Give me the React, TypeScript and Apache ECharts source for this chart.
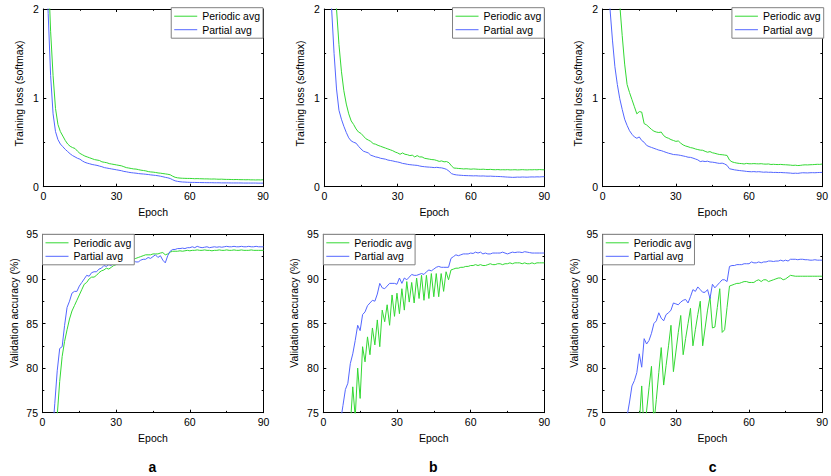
import React, { useEffect, useRef } from "react";
import * as echarts from "echarts";

// ---------- data ----------
const epochs: number[] = Array.from({ length: 90 }, (_, i) => i + 1);
const xTicks = [0, 30, 60, 90];
const seriesNames = ["Periodic avg", "Partial avg"];
const panelLetters = ["a", "b", "c"];
const yTitles = ["Training loss (softmax)", "Validation accuracy (%)"];

// Training loss, panel a
const lossA_periodic = [
  3.2, 2.45, 1.75, 1.25, 0.88, 0.7, 0.62, 0.57, 0.52, 0.48,
  0.455, 0.44, 0.43, 0.4, 0.375, 0.36, 0.345, 0.335, 0.325, 0.315,
  0.305, 0.3, 0.295, 0.28, 0.275, 0.27, 0.26, 0.255, 0.25, 0.245,
  0.24, 0.235, 0.225, 0.215, 0.21, 0.205, 0.2, 0.198, 0.192, 0.186,
  0.182, 0.178, 0.17, 0.166, 0.164, 0.16, 0.155, 0.152, 0.148, 0.144,
  0.14, 0.134, 0.118, 0.106, 0.1, 0.097, 0.095, 0.094, 0.093, 0.093,
  0.092, 0.09, 0.091, 0.09, 0.089, 0.088, 0.088, 0.087, 0.086, 0.087,
  0.085, 0.084, 0.085, 0.083, 0.082, 0.082, 0.081, 0.08, 0.081, 0.08,
  0.079, 0.079, 0.078, 0.079, 0.077, 0.077, 0.076, 0.077, 0.076, 0.078,
];
const lossA_partial = [
  2.7, 1.95, 1.25, 0.82, 0.62, 0.53, 0.48, 0.45, 0.42, 0.395,
  0.37, 0.35, 0.335, 0.32, 0.31, 0.29, 0.275, 0.265, 0.258, 0.25,
  0.245, 0.24, 0.232, 0.225, 0.215, 0.21, 0.205, 0.2, 0.195, 0.19,
  0.185, 0.18, 0.172, 0.168, 0.162, 0.158, 0.155, 0.152, 0.148, 0.145,
  0.143, 0.14, 0.137, 0.133, 0.13, 0.127, 0.123, 0.118, 0.112, 0.105,
  0.1, 0.092, 0.078, 0.066, 0.06, 0.056, 0.053, 0.052, 0.05, 0.049,
  0.048, 0.048, 0.047, 0.047, 0.046, 0.046, 0.045, 0.045, 0.045, 0.044,
  0.044, 0.044, 0.043, 0.043, 0.043, 0.043, 0.042, 0.042, 0.042, 0.042,
  0.042, 0.041, 0.041, 0.041, 0.041, 0.041, 0.041, 0.04, 0.04, 0.04,
];

// Training loss, panel b
const lossB_periodic = [
  3.6, 3.1, 2.7, 2.3, 2.0, 1.6, 1.3, 1.08, 0.93, 0.82,
  0.74, 0.7, 0.65, 0.615, 0.6, 0.57, 0.54, 0.525, 0.51, 0.485,
  0.478, 0.465, 0.455, 0.445, 0.435, 0.425, 0.415, 0.405, 0.39, 0.38,
  0.365, 0.38, 0.365, 0.36, 0.35, 0.355, 0.335, 0.35, 0.335, 0.335,
  0.32, 0.315, 0.31, 0.305, 0.303, 0.295, 0.285, 0.29, 0.28, 0.283,
  0.27, 0.235, 0.21, 0.208, 0.205, 0.203, 0.2, 0.202, 0.2, 0.197,
  0.2, 0.198, 0.196, 0.195, 0.197, 0.194, 0.193, 0.195, 0.192, 0.191,
  0.193, 0.19, 0.191, 0.19, 0.192, 0.189, 0.19, 0.191, 0.189, 0.19,
  0.192, 0.19, 0.189, 0.191, 0.19, 0.192, 0.19, 0.193, 0.191, 0.19,
];
const lossB_partial = [
  3.1, 2.45, 2.0, 1.5, 1.1, 0.86, 0.76, 0.68, 0.61, 0.55,
  0.515, 0.5, 0.49, 0.455, 0.425, 0.4, 0.39, 0.38, 0.355, 0.345,
  0.335, 0.33, 0.32, 0.315, 0.31, 0.3, 0.295, 0.29, 0.283, 0.278,
  0.272, 0.262, 0.258, 0.252, 0.248, 0.245, 0.242, 0.24, 0.233, 0.228,
  0.225, 0.222, 0.22, 0.218, 0.215, 0.218, 0.214, 0.212, 0.205, 0.195,
  0.175, 0.148, 0.138, 0.133, 0.13, 0.128, 0.126, 0.125, 0.124, 0.123,
  0.122, 0.123, 0.121, 0.12, 0.121, 0.119, 0.118, 0.119, 0.117, 0.116,
  0.115, 0.114, 0.112, 0.11, 0.108, 0.107, 0.105, 0.106, 0.108, 0.107,
  0.109, 0.108, 0.107, 0.109, 0.11, 0.109, 0.111, 0.11, 0.112, 0.113,
];

// Training loss, panel c
const lossC_periodic = [
  4.2, 3.7, 3.3, 2.9, 2.6, 2.3, 2.05, 1.7, 1.38, 1.15,
  1.06, 0.98, 0.9, 0.82, 0.845, 0.84, 0.71, 0.695, 0.67, 0.645,
  0.625, 0.615, 0.61, 0.615, 0.575, 0.555, 0.545, 0.53, 0.52, 0.51,
  0.515, 0.49, 0.47, 0.458, 0.45, 0.44, 0.435, 0.425, 0.418, 0.412,
  0.41, 0.398, 0.388, 0.395, 0.382, 0.376, 0.368, 0.362, 0.36, 0.356,
  0.352, 0.3, 0.28, 0.272, 0.266, 0.262, 0.26, 0.256, 0.262, 0.258,
  0.258, 0.26, 0.258, 0.257, 0.259, 0.255, 0.254, 0.256, 0.25, 0.252,
  0.25, 0.249, 0.251, 0.248, 0.247, 0.245, 0.243, 0.24, 0.242, 0.238,
  0.24, 0.244, 0.246, 0.245, 0.247, 0.248, 0.25, 0.252, 0.251, 0.255,
];
const lossC_partial = [
  2.9, 2.4, 2.0, 1.65, 1.35, 1.15, 0.99, 0.87, 0.76, 0.69,
  0.63, 0.59, 0.56, 0.545, 0.56, 0.52, 0.5, 0.465, 0.452, 0.442,
  0.432, 0.422, 0.412, 0.406, 0.396, 0.386, 0.377, 0.37, 0.362, 0.36,
  0.357, 0.352, 0.346, 0.34, 0.332, 0.33, 0.322, 0.312, 0.302, 0.283,
  0.288, 0.283, 0.287, 0.278, 0.276, 0.272, 0.266, 0.262, 0.265, 0.256,
  0.24, 0.202, 0.196, 0.19, 0.186, 0.182, 0.179, 0.176, 0.172, 0.17,
  0.168, 0.17, 0.167, 0.169, 0.166, 0.163, 0.165, 0.162, 0.163, 0.16,
  0.161, 0.159, 0.16, 0.158, 0.157, 0.155, 0.153, 0.15, 0.152, 0.15,
  0.154, 0.157, 0.156, 0.155, 0.157, 0.158, 0.157, 0.159, 0.16, 0.161,
];

// Validation accuracy, panel a
const accA_periodic = [
  55, 60, 65, 69, 72, 74.7, 78.5, 81.3, 83, 84.3,
  85.5, 86.4, 87, 87.6, 88.2, 88.8, 89.4, 89.6, 90.0, 90.2,
  90.2, 90.4, 90.7, 90.9, 91.0, 91.2, 91.1, 91.3, 91.5, 91.6,
  91.7, 91.7, 91.8, 91.9, 92.0, 92.1, 92.2, 92.3, 92.4, 92.5,
  92.6, 92.7, 92.7, 92.7, 92.8, 92.8, 92.8, 92.9, 92.95, 92.7,
  92.8, 93.0, 93.1, 93.1, 93.1, 93.15, 93.1, 93.15, 93.2, 93.15,
  93.2, 93.2, 93.25, 93.2, 93.2, 93.25, 93.2, 93.2, 93.15, 93.2,
  93.2, 93.25, 93.2, 93.2, 93.25, 93.2, 93.2, 93.25, 93.2, 93.2,
  93.25, 93.2, 93.2, 93.2, 93.25, 93.2, 93.2, 93.2, 93.2, 93.2,
];
const accA_partial = [
  58, 64, 69, 72.5, 76, 79.7, 82.2, 82.4, 84.8, 86.8,
  87.5, 88.4, 88.6, 88.6, 89.2, 89.6, 90.0, 90.4, 90.3, 90.7,
  90.8, 90.8, 91.1, 91.2, 91.5, 91.4, 91.6, 91.5, 91.8, 91.9,
  92.0, 91.8, 92.1, 92.2, 92.1, 92.0, 92.1, 91.9, 91.9, 92.1,
  92.2, 92.2, 92.4, 92.3, 92.5, 92.7, 92.4, 92.6, 92.1, 91.8,
  92.6, 93.1, 93.3, 93.3, 93.4, 93.4, 93.45, 93.4, 93.5, 93.5,
  93.6, 93.5, 93.65, 93.55, 93.5, 93.55, 93.6, 93.5, 93.55, 93.6,
  93.55, 93.6, 93.55, 93.6, 93.65, 93.6, 93.6, 93.65, 93.6, 93.6,
  93.65, 93.6, 93.6, 93.65, 93.6, 93.6, 93.65, 93.6, 93.6, 93.6,
];

// Validation accuracy, panel b
const accB_periodic = [
  45, 52, 57, 61, 64, 67, 69, 71, 72.5, 74,
  73.5, 77.9, 74.5, 80.0, 76.6, 82.4, 80.7, 83.5, 81.5, 84.5,
  82.6, 85.4, 82.4, 86.5, 85.2, 87.1, 84.8, 88.2, 85.8, 88.4,
  86.1, 88.9, 86.5, 89.7, 87.4, 89.6, 87.3, 90.1, 87.8, 90.4,
  87.6, 90.4, 87.8, 90.6, 88.0, 90.6, 88.0, 90.6, 88.6, 90.8,
  89.9, 91.0, 91.1, 91.2, 91.2, 91.3, 91.3, 91.4, 91.4, 91.5,
  91.5, 91.6, 91.5, 91.6, 91.5, 91.5, 91.6, 91.7, 91.6, 91.6,
  91.7, 91.7, 91.6, 91.7, 91.7, 91.8, 91.7, 91.8, 91.8, 91.8,
  91.7, 91.8, 91.7, 91.7, 91.8, 91.7, 91.8, 91.8, 91.8, 91.8,
];
const accB_partial = [
  55, 60, 64, 67.5, 70, 72, 74, 75.8, 77.6, 78.3,
  80.5, 81.6, 83.1, 84.8, 84.2, 86.0, 86.3, 87.0, 87.3, 87.6,
  87.5, 88.3, 89.5, 89.0, 88.9, 89.2, 89.5, 89.5, 89.5, 89.4,
  90.1, 89.5, 90.1, 89.9, 90.2, 90.5, 90.4, 90.4, 90.5, 90.6,
  90.5, 90.8, 91.0, 90.9, 91.1, 91.3, 91.4, 91.3, 91.3, 91.3,
  91.3, 92.3, 92.5, 92.7, 92.6, 92.7, 92.8, 92.8, 92.8, 92.9,
  92.85, 93.0, 92.9, 93.0, 92.8, 92.9, 92.8, 92.8, 92.9, 92.9,
  92.9, 92.9, 93.0, 92.9, 92.8, 92.9, 93.0, 92.95, 93.0, 93.0,
  92.95, 93.05, 93.0, 92.95, 92.9, 92.9, 92.9, 92.9, 92.9, 92.9,
];

// Validation accuracy, panel c
const accC_periodic = [
  40, 46, 51, 55, 58, 61, 63, 65, 67, 68.5,
  70, 73, 71, 72.5, 73.8, 78.0, 72.5, 75.2, 77.8, 80.2,
  73.8, 76.5, 79.5, 82.3, 78.1, 80.3, 82.5, 84.8, 79.6, 81.8,
  84.0, 85.9, 81.5, 83.3, 85.0, 86.7, 82.5, 84.3, 86.0, 87.5,
  82.5, 84.5, 86.5, 88.0, 84.5, 84.6, 86.8, 88.9, 84.0, 84.3,
  86.8, 89.2, 89.3, 89.4, 89.5, 89.5, 89.6, 89.7, 89.7, 89.6,
  89.6, 89.6, 89.8, 89.9, 89.7, 89.9, 89.9, 89.7, 89.8, 89.9,
  90.0, 90.1, 90.1, 89.9, 90.0, 90.2, 90.4, 90.35, 90.3, 90.3,
  90.3, 90.3, 90.3, 90.3, 90.3, 90.3, 90.3, 90.3, 90.3, 90.3,
];
const accC_partial = [
  50, 56, 61, 65, 68, 70, 71.5, 72.5, 73.5, 74.6,
  76.2, 78.0, 78.6, 79.5, 81.6, 80.1, 83.3, 82.7, 83.1, 83.9,
  85.0, 85.3, 86.2, 85.6, 85.3, 86.0, 86.2, 86.5, 87.3, 87.2,
  87.1, 87.4, 87.6, 87.7, 87.3, 88.0, 88.8, 88.6, 89.1, 88.8,
  88.5, 88.5, 88.8, 87.8, 89.4, 89.0, 89.3, 89.6, 89.9, 89.9,
  89.7, 91.4, 91.5, 91.5, 91.6, 91.6, 91.6, 91.7, 91.7, 91.7,
  91.9, 91.8, 91.8, 91.9, 91.8, 91.9, 91.9, 92.0, 92.0, 91.95,
  92.0, 92.0, 92.1, 92.0, 92.1, 92.0, 92.2, 92.2, 92.2, 92.15,
  92.2, 92.2, 92.15, 92.15, 92.1, 92.1, 92.15, 92.1, 92.1, 92.1,
];

const lossTicks = { min: 0, max: 2, interval: 1 };
const accTicks = { min: 75, max: 95, interval: 5 };

// ---------- layout ----------
const FONT = "'Liberation Sans', Arial, Helvetica, sans-serif";
const GREEN = "#33d833";
const BLUE = "#5366ff";

const grids = [
  { left: 43.3, top: 9, width: 219.7, height: 177.7 },
  { left: 324.3, top: 9, width: 220, height: 177.7 },
  { left: 602.7, top: 9, width: 221, height: 177.7 },
  { left: 42.5, top: 234.3, width: 221, height: 178.4 },
  { left: 323.3, top: 234.3, width: 221, height: 178.4 },
  { left: 602.7, top: 234.3, width: 221, height: 178.4 },
];

const panels = [
  { periodic: lossA_periodic, partial: lossA_partial, ticks: lossTicks, row: 0 },
  { periodic: lossB_periodic, partial: lossB_partial, ticks: lossTicks, row: 0 },
  { periodic: lossC_periodic, partial: lossC_partial, ticks: lossTicks, row: 0 },
  { periodic: accA_periodic, partial: accA_partial, ticks: accTicks, row: 1 },
  { periodic: accB_periodic, partial: accB_partial, ticks: accTicks, row: 1 },
  { periodic: accC_periodic, partial: accC_partial, ticks: accTicks, row: 1 },
];

function buildOption() {
  const xAxis: any[] = [];
  const yAxis: any[] = [];
  const series: any[] = [];
  const legend: any[] = [];
  const graphic: any[] = [];

  const tickStyle = { color: "#000", width: 1 };
  const baseLabel = { color: "#000", fontSize: 10.5, fontFamily: FONT };

  panels.forEach((p, i) => {
    const g = grids[i];
    const common = {
      gridIndex: i,
      type: "value",
      axisLine: { show: true, onZero: false, lineStyle: tickStyle },
      axisTick: { show: true, inside: true, length: 3, lineStyle: tickStyle },
      minorTick: { show: true, splitNumber: 2, length: 1.8, lineStyle: tickStyle },
      splitLine: { show: false },
      minorSplitLine: { show: false },
    };
    xAxis.push({
      ...common,
      position: "bottom",
      min: xTicks[0],
      max: xTicks[xTicks.length - 1],
      interval: xTicks[1] - xTicks[0],
      axisLabel: { ...baseLabel, margin: 4 },
      name: "Epoch",
      nameLocation: "middle",
      nameGap: 20,
      nameTextStyle: { ...baseLabel },
    });
    xAxis.push({
      ...common,
      position: "top",
      min: xTicks[0],
      max: xTicks[xTicks.length - 1],
      interval: xTicks[1] - xTicks[0],
      axisLabel: { show: false },
    });
    yAxis.push({
      ...common,
      position: "left",
      min: p.ticks.min,
      max: p.ticks.max,
      interval: p.ticks.interval,
      axisLabel: { ...baseLabel, margin: 4.5 },
    });
    yAxis.push({
      ...common,
      position: "right",
      min: p.ticks.min,
      max: p.ticks.max,
      interval: p.ticks.interval,
      axisLabel: { show: false },
    });

    const lines = [
      { name: seriesNames[0], values: p.periodic, color: GREEN },
      { name: seriesNames[1], values: p.partial, color: BLUE },
    ];
    lines.forEach((l) => {
      series.push({
        type: "line",
        name: l.name,
        xAxisIndex: 2 * i,
        yAxisIndex: 2 * i,
        data: epochs.map((e, k) => [e, l.values[k]]),
        symbol: "none",
        showSymbol: false,
        clip: true,
        silent: true,
        lineStyle: { color: l.color, width: 1 },
        itemStyle: { color: l.color },
        emphasis: { disabled: true },
      });
    });

    const legendBase: any = {
      orient: "vertical",
      top: p.row === 0 ? 7.7 : g.top,
      icon: "rect",
      itemWidth: 23,
      itemHeight: 1,
      itemGap: 1.5,
      padding: [2.5, 3, 2.5, 3],
      borderColor: "#808080",
      borderWidth: 1,
      backgroundColor: "#fff",
      selectedMode: false,
      textStyle: { ...baseLabel, lineHeight: 12 },
      data: seriesNames,
      z: 10,
    };
    if (p.row === 0) legendBase.right = 831 - (g.left + g.width);
    else legendBase.left = g.left;
    legend.push(legendBase);

    graphic.push({
      type: "text",
      x: p.row === 0 ? g.left - 24.5 : g.left - 29,
      y: p.row === 0 ? 93.5 : 313,
      rotation: Math.PI / 2,
      silent: true,
      style: {
        text: yTitles[p.row],
        fontSize: 10.5,
        fontFamily: FONT,
        fill: "#000",
        align: "center",
        verticalAlign: "middle",
      },
    });
  });

  [3, 4, 5].forEach((gi, k) => {
    const g = grids[gi];
    graphic.push({
      type: "text",
      x: g.left + g.width / 2 - 0.5,
      y: 467,
      silent: true,
      style: {
        text: panelLetters[k],
        fontSize: 14,
        fontWeight: "bold",
        fontFamily: FONT,
        fill: "#000",
        align: "center",
        verticalAlign: "middle",
      },
    });
  });

  return {
    animation: false,
    backgroundColor: "#fff",
    grid: grids.map((g) => ({ ...g, containLabel: false })),
    xAxis,
    yAxis,
    series,
    legend,
    graphic,
  };
}

export default function App() {
  const ref = useRef<HTMLDivElement>(null);
  useEffect(() => {
    document.body.style.margin = "0";
    if (!ref.current) return;
    const chart = echarts.init(ref.current, undefined, { renderer: "svg" });
    chart.setOption(buildOption() as any);
    return () => chart.dispose();
  }, []);
  return <div ref={ref} style={{ width: 831, height: 476 }} />;
}
